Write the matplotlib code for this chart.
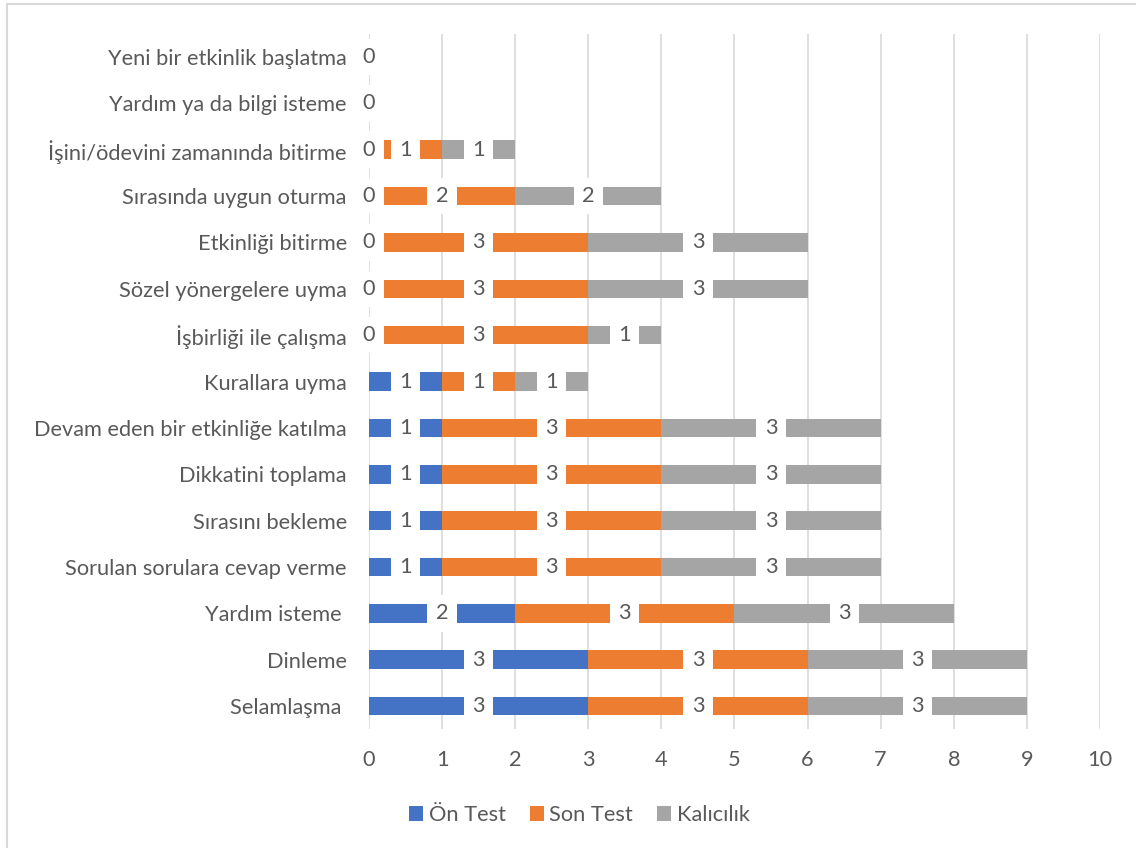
import numpy as np
import matplotlib
matplotlib.use('Agg')
import matplotlib.pyplot as plt
from matplotlib.patches import Rectangle

plt.rcParams['font.family'] = ['Lato', 'DejaVu Sans']

# categories from bottom to top
categories = ['Selamlaşma ', 'Dinleme', 'Yardım isteme ', 'Sorulan sorulara cevap verme',
              'Sırasını bekleme', 'Dikkatini toplama', 'Devam eden bir etkinliğe katılma',
              'Kurallara uyma', 'İşbirliği ile çalışma', 'Sözel yönergelere uyma',
              'Etkinliği bitirme', 'Sırasında uygun oturma', 'İşini/ödevini zamanında bitirme',
              'Yardım ya da bilgi isteme', 'Yeni bir etkinlik başlatma']
on_test   = [3, 3, 2, 1, 1, 1, 1, 1, 0, 0, 0, 0, 0, 0, 0]
son_test  = [3, 3, 3, 3, 3, 3, 3, 1, 3, 3, 3, 2, 1, 0, 0]
kalicilik = [3, 3, 3, 3, 3, 3, 3, 1, 1, 3, 3, 2, 1, 0, 0]
series_names = ['Ön Test', 'Son Test', 'Kalıcılık']
colors = ['#4472C4', '#ED7D31', '#A5A5A5']
text_color = '#595959'
fs = 15.7

fig = plt.figure(figsize=(11.36, 8.48), dpi=100)
ax = fig.add_axes([0.3248, 0.1401, 0.6435, 0.82])

y = np.arange(len(categories))
left = np.zeros(len(categories))
for vals, name, col in zip([on_test, son_test, kalicilik], series_names, colors):
    vals = np.array(vals, dtype=float)
    ax.barh(y, vals, left=left, height=0.4, color=col, label=name, zorder=2)
    for yi, (l, v) in enumerate(zip(left, vals)):
        ax.text(l + v / 2, yi, '%d' % v, ha='center', va='center', fontsize=fs,
                color=text_color, zorder=4,
                bbox=dict(boxstyle='square,pad=0.38', fc='white', ec='none'))
    left = left + vals

ax.set_xlim(0, 10)
ax.set_ylim(-0.5, len(categories) - 0.5)
ax.set_xticks(range(0, 11))
ax.set_yticks(y)
ax.set_yticklabels(categories)
ax.grid(axis='x', color='#D9D9D9', linewidth=1.2, zorder=0)
ax.set_axisbelow(True)
for s in ax.spines.values():
    s.set_visible(False)
ax.tick_params(axis='both', length=0, labelsize=fs, colors=text_color)
ax.tick_params(axis='y', pad=16)
ax.tick_params(axis='x', pad=15)

handles, labels = ax.get_legend_handles_labels()
leg = fig.legend(handles, labels, loc='center', bbox_to_anchor=(0.51, 0.039), ncol=3,
                 frameon=False, fontsize=fs, handlelength=0.65, handleheight=0.65,
                 handletextpad=0.25, columnspacing=1.1)
for t in leg.get_texts():
    t.set_color(text_color)

fig.patches.append(Rectangle((7 / 1136, -0.1), 1.2, 1.1 - 4 / 848, transform=fig.transFigure,
                             fill=False, ec='#D9D9D9', lw=1.5))

fig.savefig('out.png', dpi=100)
